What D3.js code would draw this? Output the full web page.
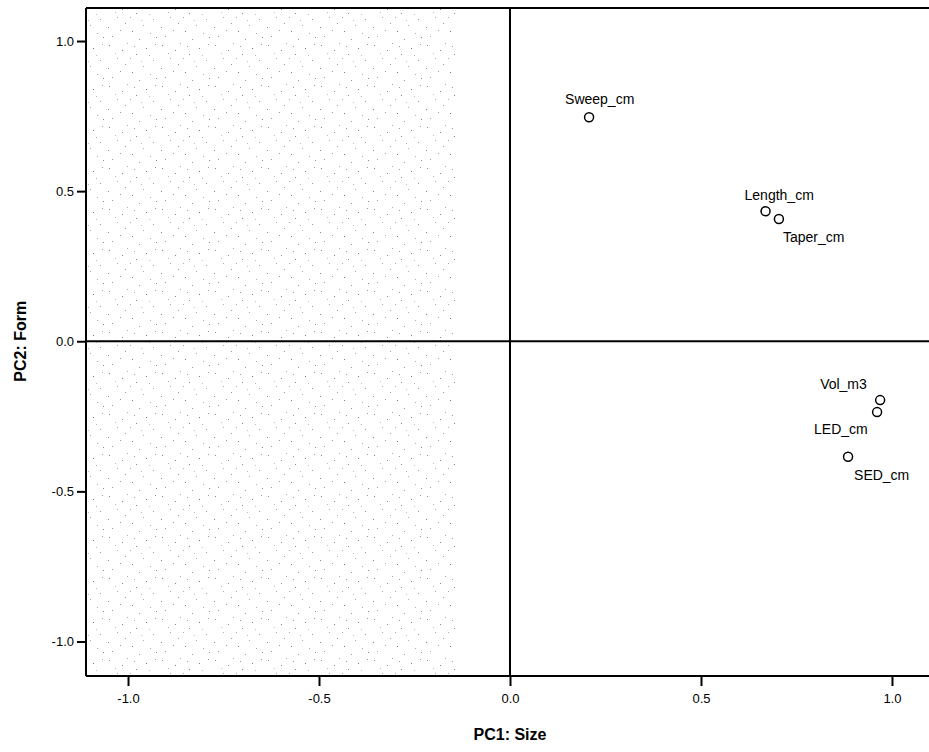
<!DOCTYPE html>
<html>
<head>
<meta charset="utf-8">
<script src="https://cdn.jsdelivr.net/npm/d3@7"></script>
<style>
  body { margin: 0; background: #fff; }
  svg { display: block; font-family: "Liberation Sans", Arial, sans-serif; }
</style>
</head>
<body>
<div class="canvas"></div>
<script>
// component loadings
const names = ['Sweep_cm', 'Length_cm', 'Taper_cm', 'Vol_m3', 'LED_cm', 'SED_cm'];
const pc1 = [0.207, 0.669, 0.704, 0.969, 0.961, 0.885];
const pc2 = [0.746, 0.433, 0.407, -0.196, -0.236, -0.385];
// label offset from each point: [dx, dy]
const labelPos = [[-24, -13], [-21, -11], [4, 23], [-60, -11], [-63, 22], [6, 23]];
const ticks = [-1.0, -0.5, 0.0, 0.5, 1.0];

const width = 929, height = 752;

const svg = d3.select('.canvas').append('svg')
    .attr('width', width)
    .attr('height', height);

// plot area edges
const plotLeft = 86, plotTop = 8, plotBottom = 676;

const x = d3.scaleLinear().domain([-1.11, 1.11]).range([plotLeft, 934]);
const y = d3.scaleLinear().domain([-1.115, 1.11]).range([plotBottom, plotTop]);

// stippled texture from the scan, left half (fixed dot layout in one tile)
const defs = svg.append('defs');
const pat = defs.append('pattern')
    .attr('id', 'stip')
    .attr('patternUnits', 'userSpaceOnUse')
    .attr('width', 53).attr('height', 41);
[[3, 4, '#888'], [21, 2, '#aaa'], [40, 7, '#777'], [47, 19, '#999'], [30, 13, '#888'],
 [11, 17, '#aaa'], [26, 31, '#777'], [6, 36, '#999'], [16, 9, '#888'], [37, 25, '#aaa'],
 [50, 37, '#888'], [19, 23, '#999'], [44, 33, '#aaa'], [2, 27, '#888'], [33, 39, '#999'],
 [9, 12, '#bbb'], [28, 5, '#999'], [43, 14, '#bbb'], [14, 30, '#999'], [35, 20, '#bbb'],
 [24, 17, '#aaa'], [49, 3, '#999']
].forEach(p => {
  pat.append('rect').attr('x', p[0]).attr('y', p[1])
    .attr('width', 1).attr('height', 1).attr('fill', p[2]);
});
svg.append('rect')
    .attr('x', plotLeft).attr('y', plotTop)
    .attr('width', x(-0.14) - plotLeft).attr('height', plotBottom - plotTop)
    .attr('fill', 'url(#stip)');

// frame: top, left
svg.append('line').attr('x1', plotLeft).attr('x2', width).attr('y1', plotTop).attr('y2', plotTop)
    .attr('stroke', '#000').attr('stroke-width', 2);
svg.append('line').attr('x1', plotLeft).attr('x2', plotLeft).attr('y1', plotTop).attr('y2', plotBottom)
    .attr('stroke', '#000').attr('stroke-width', 2);

// reference lines at 0
svg.append('line').attr('x1', x(0)).attr('x2', x(0)).attr('y1', plotTop).attr('y2', plotBottom)
    .attr('stroke', '#000').attr('stroke-width', 2);
svg.append('line').attr('x1', plotLeft).attr('x2', width).attr('y1', y(0)).attr('y2', y(0))
    .attr('stroke', '#000').attr('stroke-width', 2);

// axes
const fmt = d => d.toFixed(1);
const xAxis = svg.append('g')
    .attr('transform', `translate(0,${plotBottom})`)
    .call(d3.axisBottom(x).tickValues(ticks).tickFormat(fmt)
      .tickSize(10).tickSizeOuter(0).tickPadding(8));
const yAxis = svg.append('g')
    .attr('transform', `translate(${plotLeft},0)`)
    .call(d3.axisLeft(y).tickValues(ticks).tickFormat(fmt)
      .tickSize(9).tickSizeOuter(0).tickPadding(3));
[xAxis, yAxis].forEach(a => {
  a.select('.domain').attr('stroke', '#000').attr('stroke-width', 2);
  a.selectAll('.tick line').attr('stroke', '#000').attr('stroke-width', 2);
  a.selectAll('.tick text').attr('fill', '#000')
    .style('font-size', '13px').style('font-family', '"Liberation Sans", Arial, sans-serif');
});
xAxis.select('.domain').attr('d', `M${plotLeft},0H${width}`);
yAxis.select('.domain').attr('d', `M0,${plotTop}V${plotBottom}`);

// points
const data = names.map((n, i) => ({ name: n, x: pc1[i], y: pc2[i], pos: labelPos[i] }));

svg.selectAll('circle.pt').data(data).enter().append('circle')
    .attr('class', 'pt')
    .attr('cx', d => x(d.x))
    .attr('cy', d => y(d.y))
    .attr('r', 4.5)
    .attr('fill', '#fff')
    .attr('stroke', '#000')
    .attr('stroke-width', 1.5);

svg.selectAll('text.lab').data(data).enter().append('text')
    .attr('class', 'lab')
    .attr('x', d => x(d.x) + d.pos[0])
    .attr('y', d => y(d.y) + d.pos[1])
    .style('font-size', '14px')
    .text(d => d.name);

// axis titles
svg.append('text')
    .attr('x', x(0)).attr('y', 740)
    .attr('text-anchor', 'middle')
    .style('font-size', '16px').style('font-weight', 'bold')
    .text('PC1: Size');
svg.append('text')
    .attr('transform', `translate(26,${y(0)}) rotate(-90)`)
    .attr('text-anchor', 'middle')
    .style('font-size', '16px').style('font-weight', 'bold')
    .text('PC2: Form');
</script>
</body>
</html>
